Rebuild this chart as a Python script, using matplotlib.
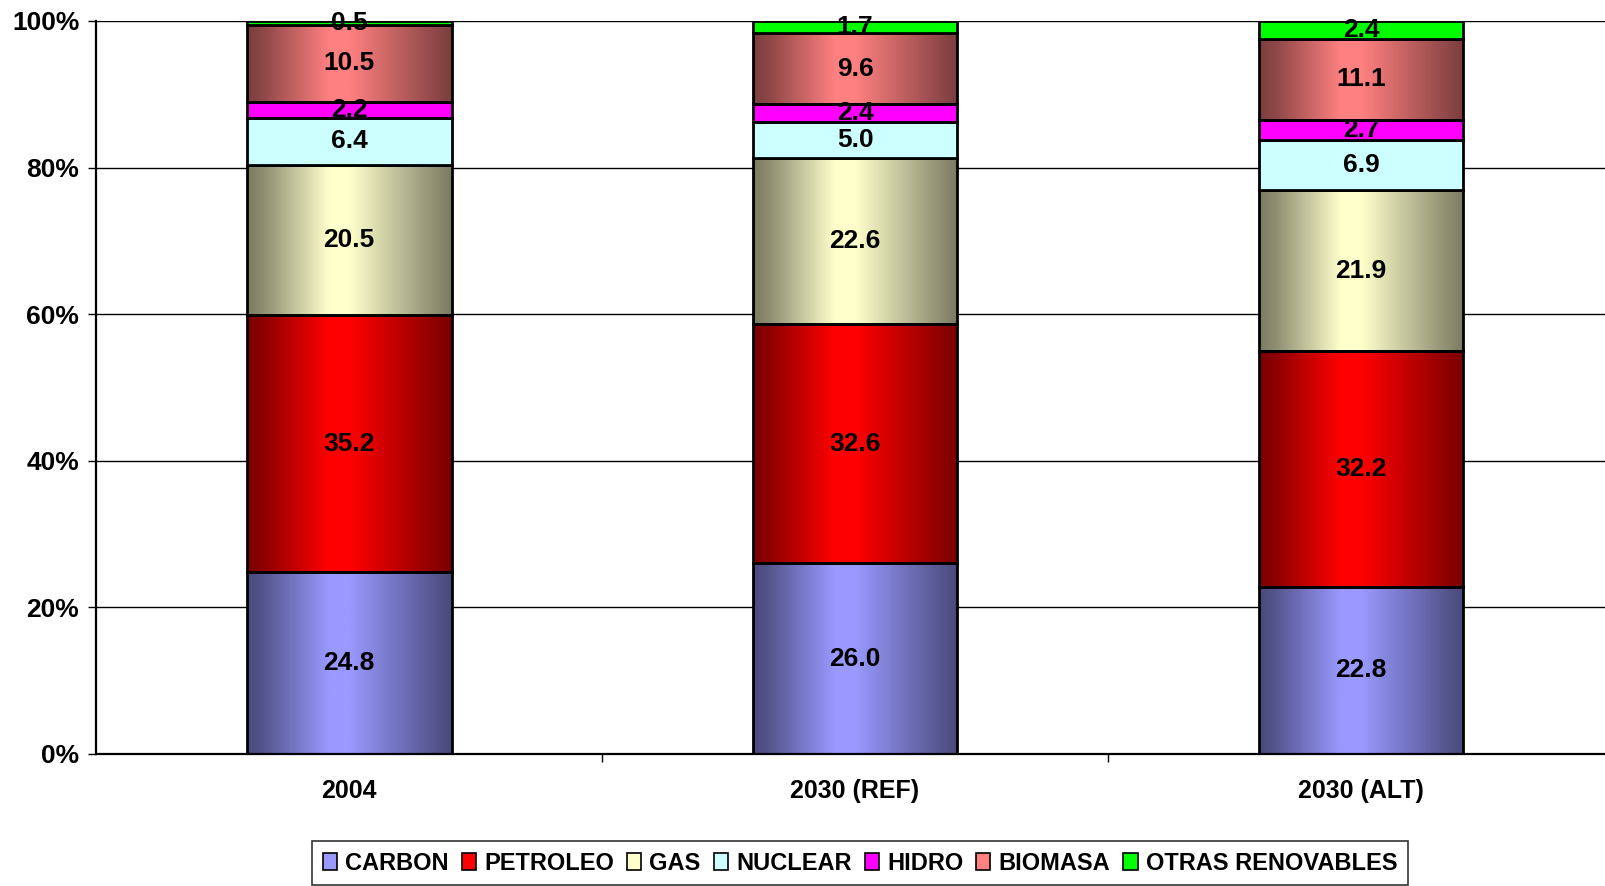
import numpy as np
import matplotlib
matplotlib.use("Agg")
from matplotlib import pyplot as plt
from matplotlib.patches import Patch

plt.rcParams['font.family'] = ['Liberation Sans', 'DejaVu Sans']
plt.rcParams['font.weight'] = 'bold'

categories = ["2004", "2030 (REF)", "2030 (ALT)"]
sources = ["CARBON", "PETROLEO", "GAS", "NUCLEAR", "HIDRO", "BIOMASA", "OTRAS RENOVABLES"]
carbon = [24.8, 26.0, 22.8]
petroleo = [35.2, 32.6, 32.2]
gas = [20.5, 22.6, 21.9]
nuclear = [6.4, 5.0, 6.9]
hidro = [2.2, 2.4, 2.7]
biomasa = [10.5, 9.6, 11.1]
otras = [0.5, 1.7, 2.4]

series = [carbon, petroleo, gas, nuclear, hidro, biomasa, otras]
colors = ["#9999FF", "#FF0000", "#FFFFCC", "#CCFFFF", "#FF00FF", "#FF8080", "#00FF00"]
gradient = [True, True, True, False, False, True, False]

data = np.array(series, dtype=float)
pct = data / data.sum(axis=0) * 100

fig = plt.figure(figsize=(16.06, 8.86), dpi=100)
ax = fig.add_axes([0.0598, 0.149, 0.9452, 0.8273])

x = np.arange(len(categories))
width = 0.405

# horizontal shading profile: dark edges, light centre
xs = np.linspace(0, 1, 200)
prof = np.interp(xs, [0, 0.08, 0.4, 0.5, 0.92, 1.0], [0.0, 0.15, 1.0, 1.0, 0.15, 0.0])

bottom = np.zeros(len(categories))
for i, vals in enumerate(pct):
    c = np.array(matplotlib.colors.to_rgb(colors[i]))
    bars = ax.bar(x, vals, width, bottom=bottom,
                  color=colors[i] if not gradient[i] else 'none',
                  edgecolor='black', linewidth=2.0, zorder=3)
    if gradient[i]:
        img = (0.48 + 0.52 * prof)[:, None] * c[None, :]
        img = np.clip(img, 0, 1)[None, :, :]
        for b in bars:
            ax.imshow(img, extent=(b.get_x(), b.get_x() + b.get_width(),
                                   b.get_y(), b.get_y() + b.get_height()),
                      aspect='auto', zorder=2.5, interpolation='bilinear')
    for xi, v, b0, raw in zip(x, vals, bottom, data[i]):
        ax.text(xi, b0 + v / 2, f"{raw:.1f}", ha='center', va='center',
                fontsize=19, fontweight='bold', zorder=5)
    bottom += vals

ax.set_xlim(-0.5, 2.5)
ax.set_ylim(0, 100)
ax.set_yticks(np.arange(0, 101, 20))
ax.set_yticklabels([f"{v}%" for v in range(0, 101, 20)], fontsize=19, fontweight='bold')
ax.yaxis.grid(True, color='black', linewidth=1.0, zorder=0)
ax.set_axisbelow(True)

ax.set_xticks(x)
ax.set_xticklabels(categories, fontsize=18, fontweight='bold')
ax.set_xticks([0.5, 1.5], minor=True)
ax.tick_params(axis='x', which='major', length=0, pad=18)
ax.tick_params(axis='x', which='minor', length=6, direction='out', width=1)
ax.tick_params(axis='y', length=6, width=1, pad=6)

for s in ['top', 'right']:
    ax.spines[s].set_visible(False)
for s in ['left', 'bottom']:
    ax.spines[s].set_linewidth(1.6)

handles = [Patch(facecolor=c, edgecolor='black', linewidth=1.2) for c in colors]
leg = fig.legend(handles, sources, loc='upper center', bbox_to_anchor=(0.5355, 0.064),
                 ncol=7, frameon=True, fancybox=False,
                 handlelength=0.6, handleheight=0.75, handletextpad=0.35,
                 columnspacing=0.55, borderpad=0.45,
                 prop={'weight': 'bold', 'size': 17})
leg.get_frame().set_edgecolor('black')
leg.get_frame().set_linewidth(1.2)

fig.savefig("out.png", dpi=100)
